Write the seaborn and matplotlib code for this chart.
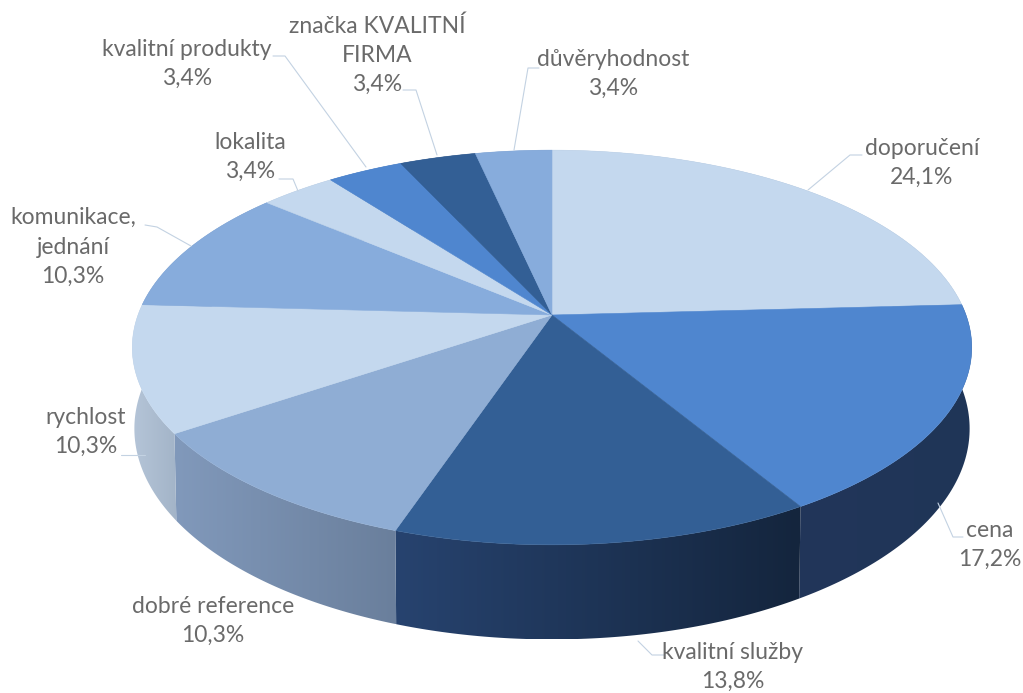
import numpy as np
import matplotlib
matplotlib.use("Agg")
import matplotlib.pyplot as plt
from matplotlib.colors import to_rgb
from matplotlib.patches import Polygon
import seaborn as sns

# ---- data ----
categories = ["doporučení", "cena", "kvalitní služby", "dobré reference", "rychlost",
              "komunikace,\njednání", "lokalita", "kvalitní produkty",
              "značka KVALITNÍ\nFIRMA", "důvěryhodnost"]
counts = [7, 5, 4, 3, 3, 3, 1, 1, 1, 1]
percent_labels = ["24,1%", "17,2%", "13,8%", "10,3%", "10,3%", "10,3%", "3,4%", "3,4%", "3,4%", "3,4%"]

# ---- style ----
top_colors = ["#c4d8ee", "#4f86cf", "#335f95", "#8fadd4", "#c4d8ee",
              "#87acdc", "#c4d8ee", "#4f86cf", "#335f95", "#87acdc"]
side_left = ["#9fb0c4", "#22365a", "#27436f", "#8199bb", "#b5c5d8",
             "#6f8db8", "#9fb0c4", "#3d6aa6", "#27436f", "#6f8db8"]
side_right = ["#8b9db3", "#1f3557", "#14253d", "#6a7f9c", "#a3b4c8",
              "#6f8db8", "#9fb0c4", "#3d6aa6", "#27436f", "#6f8db8"]
label_xy = [(922, 163), (990, 545), (733, 667), (213, 621), (86, 432),
            (73, 247), (250, 157), (187, 64), (377, 55), (613, 74)]
leaders = [[(862, 155), (850, 155), (808, 190)],
           [(938, 503), (953, 537), (963, 537)],
           [(638, 641), (652, 655), (664, 655)],
           None,
           [(121, 455), (145, 455)],
           [(145, 225), (157, 227), (191, 246)],
           [(279, 179), (293, 179), (298, 191)],
           [(273, 56), (285, 56), (366, 167)],
           [(403, 90), (416, 90), (437, 155)],
           [(539, 68), (528, 68), (514, 150)]]

CX, CY, A, B, K, DEPTH, SHRINK = 552, 315, 414, 192, 0.1646, 79, 0.995


def project(theta_deg, lowered=False):
    t = np.radians(theta_deg)
    u, v = np.cos(t), np.sin(t)
    w = 1 + K * v
    x = CX + A * u / w * (SHRINK if lowered else 1)
    y = CY - B * v / w + (DEPTH / w if lowered else 0)
    return x, y


sns.set_theme(style="white")
plt.rcParams["font.family"] = ["Lato", "DejaVu Sans"]
fig = plt.figure(figsize=(10.23, 6.93), dpi=100, facecolor="white")
ax = fig.add_axes([0, 0, 1, 1])

# The pie supplies each slice's angles; the wedges are then shown in perspective.
wedges, _ = ax.pie(counts, startangle=90, counterclock=False, colors=top_colors)

for i, wedge in enumerate(wedges):
    theta = np.linspace(wedge.theta1, wedge.theta2, 80)
    wedge.set_visible(False)

    # outer side of the slice, with a horizontal gradient
    xt, yt = project(theta)
    xb, yb = project(theta, lowered=True)
    pts = np.column_stack([np.r_[xt, xb[::-1]], np.r_[yt, yb[::-1]]])
    clip = Polygon(pts, closed=True, transform=ax.transData, fc="none", ec="none")
    ax.add_patch(clip)
    c0, c1 = np.array(to_rgb(side_left[i])), np.array(to_rgb(side_right[i]))
    grad = np.linspace(0, 1, 128)[None, :, None]
    img = c0[None, None, :] * (1 - grad) + c1[None, None, :] * grad
    im = ax.imshow(img, extent=(pts[:, 0].min(), pts[:, 0].max(), pts[:, 1].max(), pts[:, 1].min()),
                   aspect="auto", zorder=1, interpolation="bilinear")
    im.set_clip_path(clip)

    # top face of the slice
    top = np.vstack([[CX, CY], np.column_stack([xt, yt])])
    ax.add_patch(Polygon(top, closed=True, fc=top_colors[i], ec=top_colors[i], lw=0.4, zorder=2))

    # label and leader line
    ax.text(*label_xy[i], f"{categories[i]}\n{percent_labels[i]}", ha="center", va="center",
            fontsize=16.5, color="#6a6a6a", linespacing=1.48, zorder=4)
    if leaders[i] is not None:
        lx, ly = zip(*leaders[i])
        ax.plot(lx, ly, color="#c3d2e2", lw=0.8, zorder=3)

ax.set_aspect("auto")
ax.set_xlim(0, 1023)
ax.set_ylim(693, 0)
ax.axis("off")
fig.savefig("out.png", dpi=100)
